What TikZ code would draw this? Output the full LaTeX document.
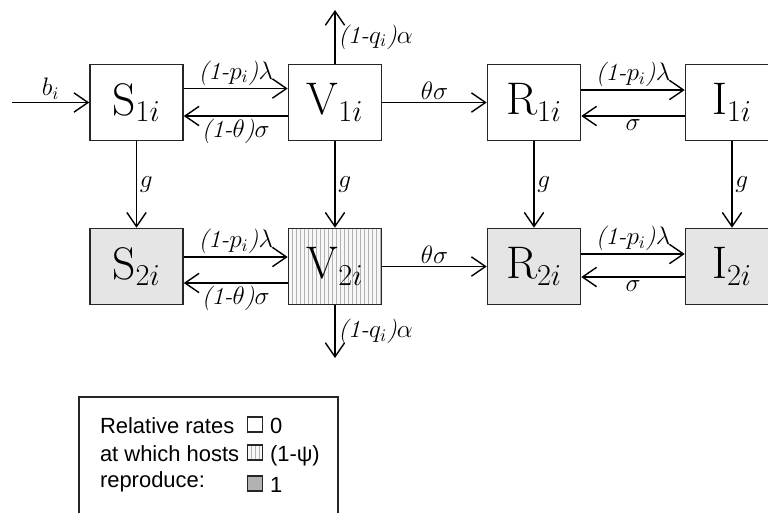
\documentclass[tikz,border=0pt]{standalone}
\usepackage{amsmath}
\usepackage{fontspec}
\newfontfamily\keyfont{Liberation Sans}
\usetikzlibrary{arrows.meta}

\tikzset{
  box/.style={draw=black!85, line width=0.9pt, minimum width=1.86cm, minimum height=1.52cm, inner sep=0pt, font=\fontsize{26}{30}\selectfont},
  flow/.style={-{Straight Barb[length=8pt,width=11pt]}, line width=0.8pt},
  rate/.style={font=\fontsize{14}{16}\selectfont, inner sep=1.5pt},
  grey/.style={fill=black!10},
  hatch/.style={fill=black!3, path picture={
      \foreach \k in {1,...,24}
        \draw[black!30, line width=0.3pt] ([xshift=\k*0.08cm]path picture bounding box.south west) -- ([xshift=\k*0.08cm]path picture bounding box.north west);}},
  key/.style={draw=black!85, line width=0.6pt, minimum size=0.3cm, inner sep=0pt},
  keytext/.style={font=\keyfont\fontsize{12.5}{15}\selectfont, anchor=base west, inner sep=0pt, outer sep=0pt}
}

\begin{document}
\begin{tikzpicture}[x=0.02cm, y=-0.02cm]
    \useasboundingbox (0,0) rectangle (768,512);
    \clip (0,0) rectangle (768,512);

    % compartments
    \node[box] (S1) at (136.5,102.5) {$\mathrm{S}_{1i}$};
    \node[box] (V1) at (335,102.5) {$\mathrm{V}_{1i}$};
    \node[box] (R1) at (534,102.5) {$\mathrm{R}_{1i}$};
    \node[box] (I1) at (732,102.5) {$\mathrm{I}_{1i}$};
    \node[box, grey] (S2) at (136.5,266.5) {$\mathrm{S}_{2i}$};
    \node[box, hatch] (V2) at (335,266.5) {$\mathrm{V}_{2i}$};
    \node[box, grey] (R2) at (534,266.5) {$\mathrm{R}_{2i}$};
    \node[box, grey] (I2) at (732,266.5) {$\mathrm{I}_{2i}$};

    \coordinate (in) at (12,102.5);
    \coordinate (up) at (335,10);
    \coordinate (down) at (335,358);

    % first row
    \draw[flow] (in) -- (S1.west) node[midway, above, rate] {$b_i$};
    \draw[flow] ([yshift=0.28cm]S1.east) -- ([yshift=0.28cm]V1.west) node[midway, above, rate] {$\textit{(1-}p_i\textit{)}\lambda$};
    \draw[flow] ([yshift=-0.27cm]V1.west) -- ([yshift=-0.27cm]S1.east) node[midway, below, rate] {$\textit{(1-}\theta\textit{)}\sigma$};
    \draw[flow] (V1.east) -- (R1.west) node[midway, above, rate] {$\theta\sigma$};
    \draw[flow] ([yshift=0.25cm]R1.east) -- ([yshift=0.25cm]I1.west) node[midway, above, rate] {$\textit{(1-}p_i\textit{)}\lambda$};
    \draw[flow] ([yshift=-0.27cm]I1.west) -- ([yshift=-0.27cm]R1.east) node[midway, below, rate] {$\sigma$};
    \draw[flow] (V1.north) -- (up) node[midway, right, rate] {$\textit{(1-}q_i\textit{)}\alpha$};

    % ageing
    \draw[flow] (S1.south) -- (S2.north) node[midway, right, rate] {$g$};
    \draw[flow] (V1.south) -- (V2.north) node[midway, right, rate] {$g$};
    \draw[flow] (R1.south) -- (R2.north) node[midway, right, rate] {$g$};
    \draw[flow] (I1.south) -- (I2.north) node[midway, right, rate] {$g$};

    % second row
    \draw[flow] ([yshift=0.19cm]S2.east) -- ([yshift=0.19cm]V2.west) node[midway, above, rate] {$\textit{(1-}p_i\textit{)}\lambda$};
    \draw[flow] ([yshift=-0.33cm]V2.west) -- ([yshift=-0.33cm]S2.east) node[midway, below, rate] {$\textit{(1-}\theta\textit{)}\sigma$};
    \draw[flow] (V2.east) -- (R2.west) node[midway, above, rate] {$\theta\sigma$};
    \draw[flow] ([yshift=0.25cm]R2.east) -- ([yshift=0.25cm]I2.west) node[midway, above, rate] {$\textit{(1-}p_i\textit{)}\lambda$};
    \draw[flow] ([yshift=-0.21cm]I2.west) -- ([yshift=-0.21cm]R2.east) node[midway, below, rate] {$\sigma$};
    \draw[flow] (V2.south) -- (down) node[midway, right, rate] {$\textit{(1-}q_i\textit{)}\alpha$};

    % legend
    \draw[black!85, line width=0.8pt] (79,397) rectangle (338,540);
    \node[keytext] (t1) at (100,433) {Relative rates};
    \node[keytext] (t2) at (100,461) {at which hosts};
    \node[keytext] (t3) at (100,487) {reproduce:};
    \node[key] (k1) at (255,424.5) {};
    \node[key, hatch] (k2) at (255,452.5) {};
    \node[key, fill=black!30] (k3) at (255,483.5) {};
    \node[keytext] (v1) at (270,433) {0};
    \node[keytext] (v2) at (270,461) {(1-ψ)};
    \node[keytext] (v3) at (270,492) {1};
\end{tikzpicture}
\end{document}
